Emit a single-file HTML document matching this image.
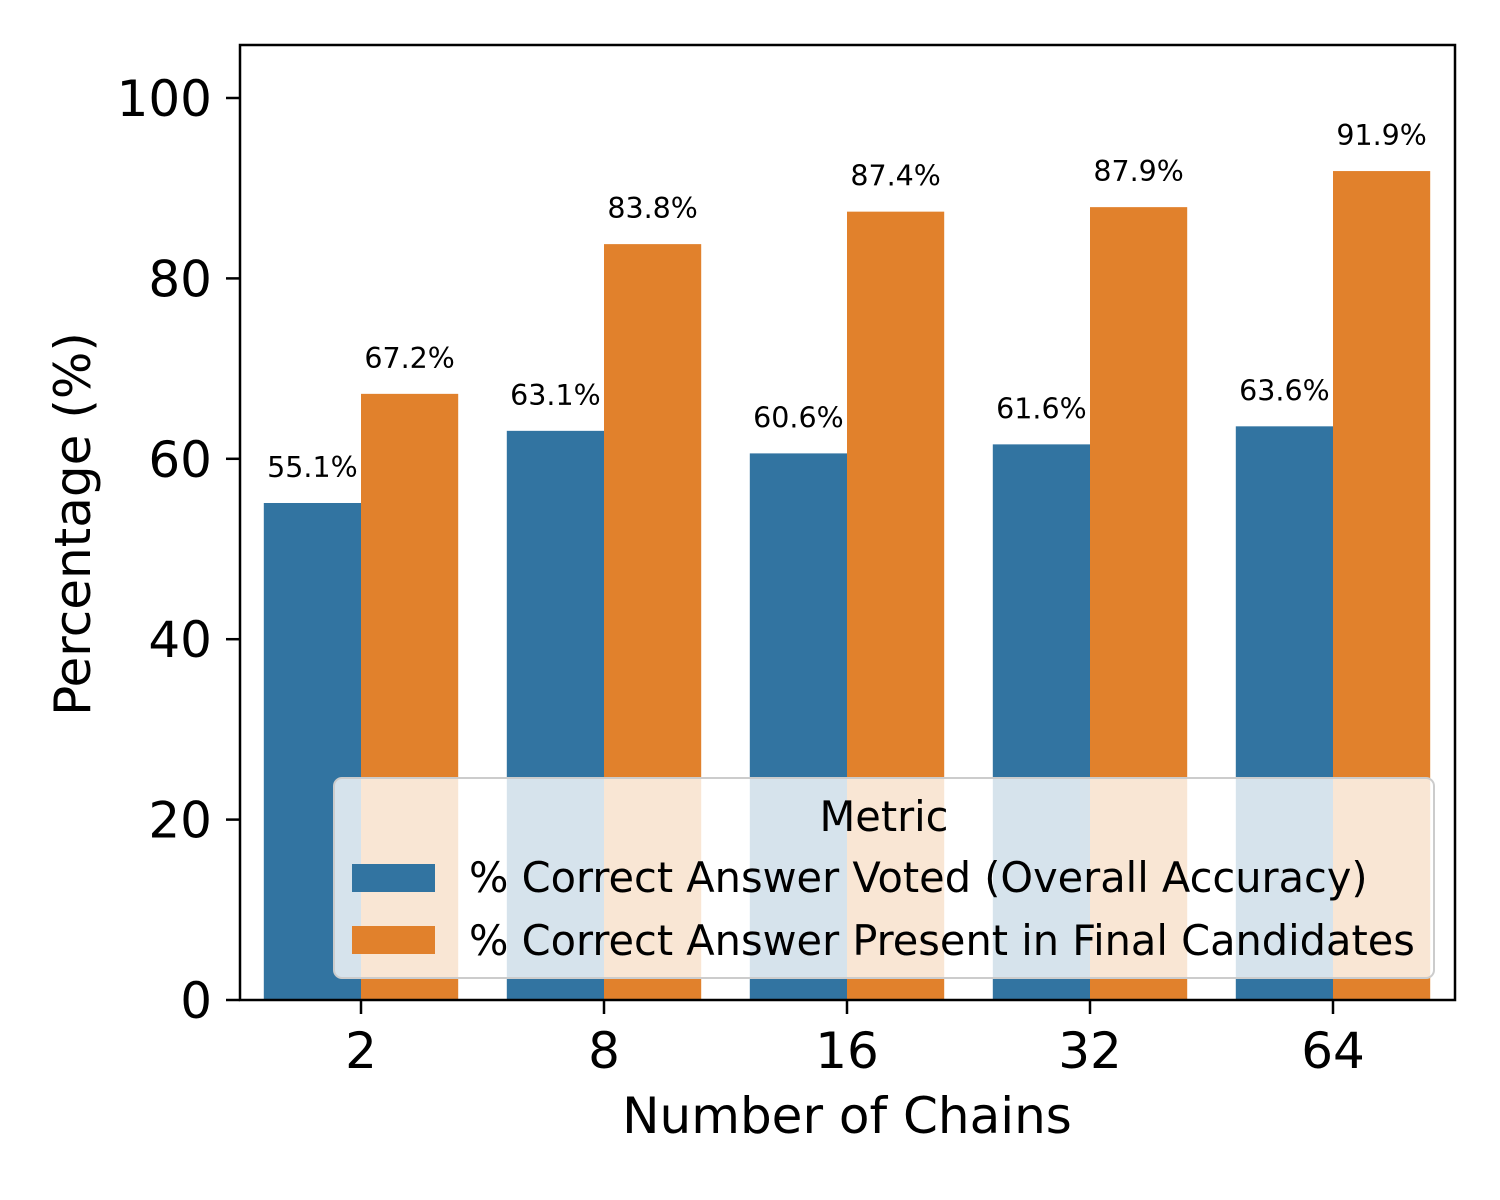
<!DOCTYPE html>
<html><head><meta charset="utf-8"><style>
html,body{margin:0;padding:0;background:#fff}
svg{display:block;font-family:"DejaVu Sans","Liberation Sans",sans-serif}
</style></head><body>
<svg id="chart" width="1500" height="1200" viewBox="0 0 1500 1200">
<rect x="0" y="0" width="1500" height="1200" fill="#fff"/>
<g id="bars"></g>
<g id="labels"></g>
<g id="yticks"></g>
<g id="xticks"></g>
<rect x="240" y="45" width="1215" height="955" fill="none" stroke="#000" stroke-width="2.5"/>
<text x="847" y="1133" font-size="50" text-anchor="middle">Number of Chains</text>
<text transform="translate(90,524) rotate(-90)" font-size="50" text-anchor="middle">Percentage (%)</text>
<g>
<rect x="334" y="778" width="1100" height="200" rx="8" fill="#fff" fill-opacity="0.8" stroke="#ccc" stroke-width="2"/>
<text x="884" y="831" font-size="41.5" text-anchor="middle">Metric</text>
<g>
<rect x="352" y="864" width="83" height="28" fill="#3274a1"/>
<text x="469" y="892" font-size="41.5">% Correct Answer Voted (Overall Accuracy)</text>
</g>
<g>
<rect x="352" y="926" width="83" height="28" fill="#e1812c"/>
<text x="469" y="955" font-size="41.5">% Correct Answer Present in Final Candidates</text>
</g>
</g>
</svg>
<script>
const categories = ["2","8","16","32","64"];
const votedValues = [55.1, 63.1, 60.6, 61.6, 63.6];
const presentValues = [67.2, 83.8, 87.4, 87.9, 91.9];
const yTickValues = [0,20,40,60,80,100];

const NS="http://www.w3.org/2000/svg";
const x0=361, step=243, barW=97.2;
const yScale=v=>1000-v*9.02;
const xCenter=i=>x0+i*step;
function mk(tag,attrs,parent){const e=document.createElementNS(NS,tag);for(const k in attrs)e.setAttribute(k,attrs[k]);parent.appendChild(e);return e;}
const bars=document.getElementById('bars'), labels=document.getElementById('labels');
const series=[{vals:votedValues,color:"#3274a1",off:-1,name:"voted"},{vals:presentValues,color:"#e1812c",off:0,name:"present"}];
series.forEach(s=>{
  s.vals.forEach((v,i)=>{
    const x=xCenter(i)+s.off*barW;
    const r=mk('rect',{x:x,y:yScale(v),width:barW,height:yScale(0)-yScale(v),fill:s.color},bars);
    
    
    const t=mk('text',{x:x+barW/2,y:yScale(v)-26,'font-size':'28.5','text-anchor':'middle'},labels);
    t.textContent=v.toFixed(1)+'%';
    
    
  });
});
const yt=document.getElementById('yticks');
yTickValues.forEach(v=>{
  const y=yScale(v);
  const l=mk('line',{x1:226,x2:240,y1:y,y2:y,stroke:'#000','stroke-width':2.5},yt);
  
  
  const t=mk('text',{x:212,y:y+18,'font-size':'50','text-anchor':'end'},yt);
  t.textContent=v;
  
  
});
const xt=document.getElementById('xticks');
categories.forEach((c,i)=>{
  const x=xCenter(i);
  const l=mk('line',{x1:x,x2:x,y1:1000,y2:1014,stroke:'#000','stroke-width':2.5},xt);
  
  
  const t=mk('text',{x:x,y:1068,'font-size':'50','text-anchor':'middle'},xt);
  t.textContent=c;
  
  
});
</script>
</body></html>
